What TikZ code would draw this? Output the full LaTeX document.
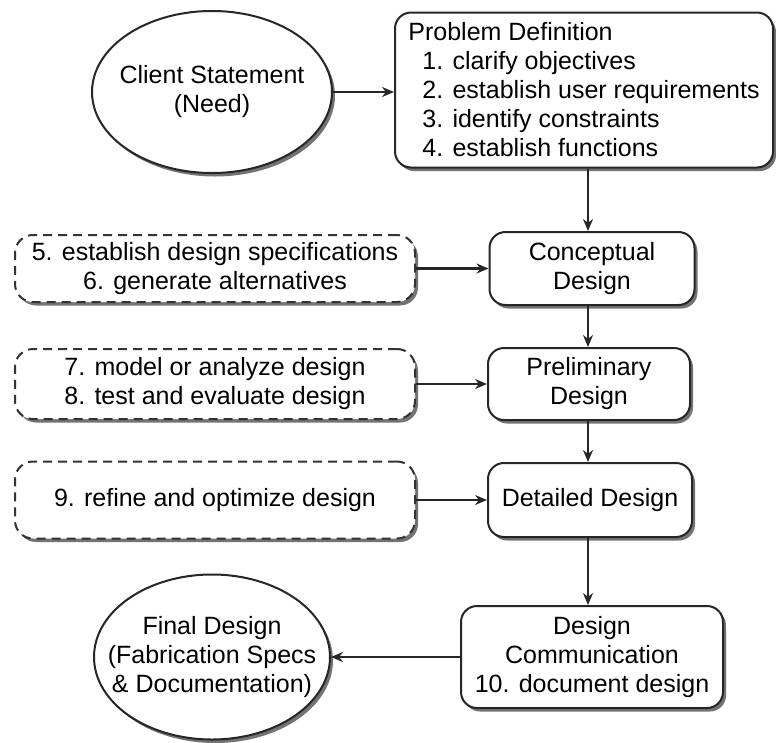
\documentclass[tikz,border=0pt]{standalone}
\usepackage{fontspec}
\setmainfont{Liberation Sans}
\usetikzlibrary{shapes.geometric,arrows.meta,shadows}
\begin{document}
\begin{tikzpicture}[x=1pt,y=-1pt,
  font=\fontsize{25}{29}\selectfont,
  line width=2pt,
  shd/.style={drop shadow={shadow xshift=3pt,shadow yshift=-3.5pt,fill=black!55,opacity=1}},
  mainbox/.style={draw=black!85, fill=white, rounded corners=16pt, align=center, inner sep=0pt, shd},
  dashbox/.style={draw=black!80, fill=white, dash pattern=on 9pt off 6pt, rounded corners=18pt, align=center, inner sep=0pt, shd},
  oval/.style={ellipse, draw=black!85, fill=white, inner sep=0pt, shd},
  txt/.style={align=center, inner sep=0pt},
  arr/.style={-{Stealth[length=12pt,width=10pt]}, line width=2.6pt, draw=black!85}
]
\useasboundingbox (0,0) rectangle (776,742);
\coordinate (col) at (588,0);

\node[oval, minimum width=240pt, minimum height=162pt] (client) at (212,92) {};
\node[txt] (clienttxt) at (client.center) {Client Statement\\(Need)};
\node[mainbox, minimum width=378pt, minimum height=155pt, align=left] (prob) at (584,90)
  {Problem Definition\\
   \hspace*{14pt}1. clarify objectives\\
   \hspace*{14pt}2. establish user requirements\\
   \hspace*{14pt}3. identify constraints\\
   \hspace*{14pt}4. establish functions};

\node[mainbox, minimum width=205pt, minimum height=73pt] (concept) at (592,268.5) {Conceptual\\Design};
\node[mainbox, minimum width=202pt, minimum height=72pt] (prelim) at (589,384) {Preliminary\\Design};
\node[mainbox, minimum width=204pt, minimum height=74pt] (detail) at (590,500) {Detailed Design};
\node[mainbox, minimum width=262pt, minimum height=102pt] (comm) at (592,657) {Design\\Communication\\10. document design};

\node[dashbox, minimum width=400pt, minimum height=67pt] (d1) at (215,268.5) {5. establish design specifications\\6. generate alternatives};
\node[dashbox, minimum width=400pt, minimum height=70pt] (d2) at (215,384) {7. model or analyze design\\8. test and evaluate design};
\node[dashbox, minimum width=400pt, minimum height=77pt] (d3) at (215,500) {9. refine and optimize design};

\node[oval, minimum width=236pt, minimum height=165pt] (final) at (212,657) {};
\node[txt] (finaltxt) at (final.center) {Final Design\\(Fabrication Specs\\\& Documentation)};

\draw[arr] (client.east) -- (prob.west |- client.east);
\draw[arr] (prob.south -| col) -- (concept.north -| col);
\draw[arr] (concept.south -| col) -- (prelim.north -| col);
\draw[arr] (prelim.south -| col) -- (detail.north -| col);
\draw[arr] (detail.south -| col) -- (comm.north -| col);
\draw[arr] (d1.east) -- (concept.west |- d1.east);
\draw[arr] (d2.east) -- (prelim.west |- d2.east);
\draw[arr] (d3.east) -- (detail.west |- d3.east);
\draw[arr] (comm.west) -- (final.east |- comm.west);
\end{tikzpicture}
\end{document}
